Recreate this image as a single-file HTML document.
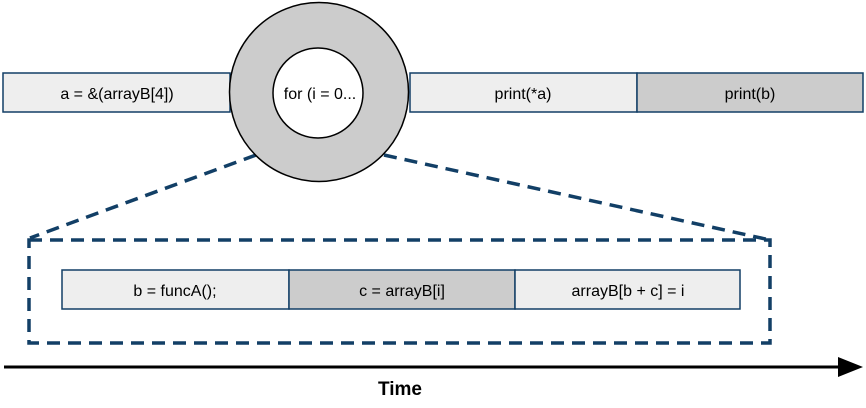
<!DOCTYPE html>
<html><head><style>body{margin:0;background:#fff}</style></head><body>
<svg width="866" height="403" xmlns="http://www.w3.org/2000/svg" font-family="Liberation Sans, sans-serif">
<g stroke="#123f66" stroke-width="1.5">
<rect x="3" y="73" width="227" height="39" fill="#eeeeee"/>
<rect x="410" y="73" width="227" height="39" fill="#eeeeee"/>
<rect x="637" y="73" width="226" height="39" fill="#cccccc"/>
<rect x="62" y="270" width="227" height="39" fill="#eeeeee"/>
<rect x="289" y="270" width="226" height="39" fill="#cccccc"/>
<rect x="515" y="270" width="225" height="39" fill="#eeeeee"/>
</g>
<g stroke="#123f66" stroke-width="3.5" stroke-dasharray="13,8" fill="none">
<line x1="256" y1="155" x2="30" y2="238"/>
<line x1="384" y1="155" x2="770" y2="240"/>
<rect x="29" y="240" width="741" height="103"/>
</g>
<circle cx="319" cy="92" r="89.5" fill="#cccccc" stroke="#000" stroke-width="1.5"/>
<circle cx="318" cy="93" r="45" fill="#fff" stroke="#000" stroke-width="1.5"/>
<g font-size="16" text-anchor="middle" fill="#000">
<text x="117" y="99">a = &amp;(arrayB[4])</text>
<text x="320" y="99">for (i = 0...</text>
<text x="523" y="99">print(*a)</text>
<text x="750" y="99">print(b)</text>
<text x="175" y="296">b = funcA();</text>
<text x="402" y="296">c = arrayB[i]</text>
<text x="628" y="296">arrayB[b + c] = i</text>
</g>
<line x1="4" y1="367" x2="842" y2="367" stroke="#000" stroke-width="3"/>
<polygon points="838,357 863,367 838,377" fill="#000"/>
<text x="400" y="395" font-size="19" font-weight="bold" text-anchor="middle">Time</text>
</svg>
</body></html>
